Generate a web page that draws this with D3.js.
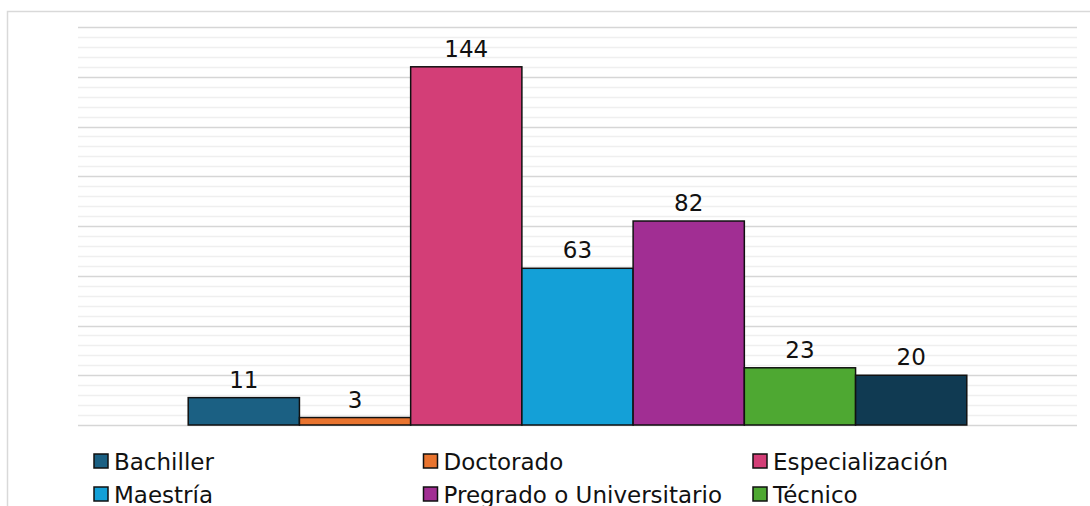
<!DOCTYPE html>
<html>
<head>
<meta charset="utf-8">
<script src="https://cdn.jsdelivr.net/npm/d3@7"></script>
<style>
  body { margin: 0; background: #fff; }
  svg { display: block; font-family: "DejaVu Sans", Verdana, sans-serif; }
</style>
</head>
<body>
<div id="chart"></div>
<script>
// data
const categories = ["Bachiller", "Doctorado", "Especialización", "Maestría",
                    "Pregrado o Universitario", "Técnico", "Tecnólogo"];
const values = [11, 3, 144, 63, 82, 23, 20];
const colors = ["#1b6083", "#e9742f", "#d33e77", "#14a0d7", "#a12e93", "#4ea832", "#103a52"];

const width = 1090, height = 506;
const plot = {left: 78, right: 1077, top: 27, bottom: 425};

const svg = d3.select("#chart").append("svg")
    .attr("width", width)
    .attr("height", height);

// outer frame
svg.append("rect")
    .attr("x", 7.5).attr("y", 11.5)
    .attr("width", 1100).attr("height", 520)
    .attr("fill", "none")
    .attr("stroke", "#d9d9d9")
    .attr("stroke-width", 1.5);

let y = d3.scaleLinear().domain([0, 160]).range([plot.bottom, plot.top]);

// one group, seven bars side by side
let x0 = d3.scaleBand().domain(["all"]).range([plot.left, plot.right])
    .paddingInner(0.124).paddingOuter(0.124);
let x1 = d3.scaleBand().domain(categories)
    .range([x0("all"), x0("all") + x0.bandwidth()]);

// grid
let minor = svg.append("g").attr("class", "minor-grid");
minor.selectAll("line")
    .data(d3.range(0, 161, 4).filter(d => d % 20 !== 0))
    .enter().append("line")
    .attr("x1", plot.left).attr("x2", plot.right)
    .attr("y1", d => Math.round(y(d)) + 0.5)
    .attr("y2", d => Math.round(y(d)) + 0.5)
    .attr("stroke", "#efefef")
    .attr("stroke-width", 1.5);

let major = svg.append("g").attr("class", "major-grid");
major.selectAll("line")
    .data(y.ticks(8))
    .enter().append("line")
    .attr("x1", plot.left).attr("x2", plot.right)
    .attr("y1", d => Math.round(y(d)) + 0.5)
    .attr("y2", d => Math.round(y(d)) + 0.5)
    .attr("stroke", "#d6d6d6")
    .attr("stroke-width", 1.5);

// bars
svg.append("g").attr("class", "bars")
    .selectAll("rect")
    .data(categories)
    .enter().append("rect")
    .attr("x", d => x1(d))
    .attr("y", (d, i) => y(values[i]))
    .attr("width", x1.bandwidth())
    .attr("height", (d, i) => y(0) - y(values[i]))
    .attr("fill", (d, i) => colors[i])
    .attr("stroke", "#111")
    .attr("stroke-width", 1.5);

// value labels
svg.append("g").attr("class", "labels")
    .selectAll("text")
    .data(categories)
    .enter().append("text")
    .attr("x", d => x1(d) + x1.bandwidth() / 2)
    .attr("y", (d, i) => y(values[i]) - 10)
    .attr("text-anchor", "middle")
    .attr("font-size", 23)
    .attr("fill", "#111")
    .text((d, i) => values[i]);

// legend, 3 columns
let legend = svg.append("g").attr("class", "legend")
    .selectAll("g")
    .data(categories)
    .enter().append("g")
    .attr("transform", (d, i) => `translate(${94 + (i % 3) * 329.5},${454 + Math.floor(i / 3) * 33})`);

legend.append("rect")
    .attr("width", 14).attr("height", 14)
    .attr("fill", (d, i) => colors[i])
    .attr("stroke", "#111")
    .attr("stroke-width", 1.5);

legend.append("text")
    .attr("x", 20)
    .attr("y", 16)
    .attr("font-size", 23)
    .attr("fill", "#111")
    .text(d => d);
</script>
</body>
</html>
